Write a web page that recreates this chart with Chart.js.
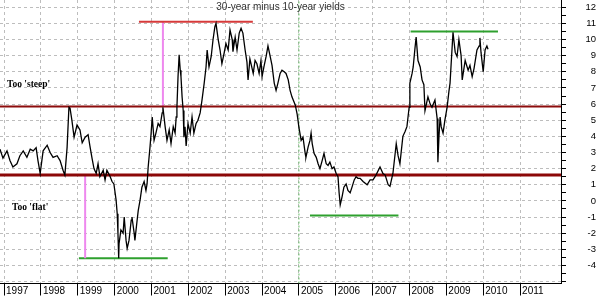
<!DOCTYPE html>
<html>
<head>
<meta charset="utf-8">
<script src="https://cdn.jsdelivr.net/npm/chart.js@4.4.0/dist/chart.umd.min.js"></script>
<style>
  html, body { margin: 0; padding: 0; background: #fff; }
</style>
</head>
<body>
<canvas id="chart" width="600" height="296"></canvas>
<script>
// 30-year minus 10-year yield spread (decimal years / values)
const years = [
  1996.89, 1996.97, 1997.08, 1997.16, 1997.24, 1997.35, 1997.43, 1997.52, 1997.62, 1997.71,
  1997.79, 1997.87, 1997.92, 1997.98, 1998.06, 1998.17, 1998.25, 1998.33, 1998.44, 1998.52,
  1998.60, 1998.65, 1998.71, 1998.76, 1998.79, 1998.84, 1998.90, 1998.98, 1999.06, 1999.12,
  1999.20, 1999.28, 1999.33, 1999.39, 1999.44, 1999.50, 1999.55, 1999.60, 1999.69, 1999.74,
  1999.79, 1999.88, 1999.93, 1999.98, 2000.01, 2000.04, 2000.07, 2000.09, 2000.11, 2000.12,
  2000.17, 2000.23, 2000.26, 2000.31, 2000.34, 2000.39, 2000.45, 2000.47, 2000.53, 2000.55,
  2000.61, 2000.64, 2000.69, 2000.74, 2000.80, 2000.85, 2000.88, 2000.91, 2000.96, 2000.99,
  2001.02, 2001.07, 2001.12, 2001.18, 2001.23, 2001.29, 2001.31, 2001.37, 2001.42, 2001.48,
  2001.53, 2001.59, 2001.64, 2001.67, 2001.69, 2001.72, 2001.75, 2001.78, 2001.80, 2001.83,
  2001.86, 2001.88, 2001.91, 2001.94, 2001.99, 2002.05, 2002.10, 2002.15, 2002.21, 2002.26,
  2002.32, 2002.37, 2002.43, 2002.48, 2002.51, 2002.56, 2002.62, 2002.67, 2002.72, 2002.75,
  2002.81, 2002.86, 2002.91, 2002.97, 2003.02, 2003.08, 2003.13, 2003.19, 2003.21, 2003.27,
  2003.32, 2003.38, 2003.43, 2003.48, 2003.54, 2003.59, 2003.62, 2003.67, 2003.76, 2003.81,
  2003.86, 2003.92, 2003.97, 2004.00, 2004.05, 2004.11, 2004.16, 2004.22, 2004.27, 2004.33,
  2004.38, 2004.43, 2004.49, 2004.54, 2004.60, 2004.65, 2004.71, 2004.76, 2004.81, 2004.90,
  2004.95, 2005.00, 2005.06, 2005.11, 2005.17, 2005.19, 2005.25, 2005.30, 2005.33, 2005.36,
  2005.41, 2005.47, 2005.52, 2005.57, 2005.63, 2005.68, 2005.74, 2005.79, 2005.84, 2005.90,
  2005.95, 2006.01, 2006.06, 2006.09, 2006.12, 2006.17, 2006.22, 2006.28, 2006.33, 2006.39,
  2006.44, 2006.50, 2006.55, 2006.60, 2006.66, 2006.74, 2006.85, 2006.93, 2007.01, 2007.09,
  2007.20, 2007.28, 2007.34, 2007.42, 2007.47, 2007.55, 2007.64, 2007.69, 2007.74, 2007.82,
  2007.88, 2007.93, 2007.99, 2008.01, 2008.07, 2008.10, 2008.15, 2008.18, 2008.23, 2008.29,
  2008.34, 2008.39, 2008.42, 2008.50, 2008.56, 2008.61, 2008.69, 2008.75, 2008.77, 2008.80,
  2008.83, 2008.86, 2008.91, 2008.96, 2009.02, 2009.07, 2009.10, 2009.13, 2009.18, 2009.24,
  2009.29, 2009.34, 2009.40, 2009.43, 2009.51, 2009.59, 2009.64, 2009.70, 2009.75, 2009.83,
  2009.89, 2009.91, 2009.94, 2010.00, 2010.05, 2010.10, 2010.13
];
const spread = [
  3.2, 2.65, 3.1, 2.5, 2.1, 2.3, 2.8, 3.1, 2.7, 3.2,
  3.1, 3.3, 2.5, 1.7, 3.1, 3.45, 3.0, 2.7, 2.8, 2.5,
  1.9, 1.6, 3.3, 5.8, 5.75, 5.0, 3.95, 4.7, 4.4, 3.6,
  3.95, 4.1, 3.4, 2.6, 2.0, 1.7, 2.3, 1.5, 1.9, 1.3,
  1.9, 1.5, 1.2, 1.05, 0.55, 0.05, -0.8, -2.0, -3.55, -2.65,
  -1.8, -2.0, -1.0, -2.45, -2.95, -2.45, -1.2, -1.0, -2.0, -2.45,
  -1.2, -0.6, 0.05, 0.85, 1.2, 0.65, 1.05, 2.1, 3.35, 4.2,
  5.2, 3.75, 4.2, 4.8, 4.6, 5.45, 5.8, 4.6, 3.75, 4.4,
  3.55, 4.6, 4.2, 5.2, 5.8, 7.7, 9.05, 8.1, 7.7, 6.45,
  5.6, 3.95, 4.6, 3.4, 4.8, 4.2, 5.2, 4.2, 4.8, 5.0,
  5.45, 6.25, 7.3, 8.3, 9.35, 8.3, 8.95, 10.0, 10.8, 11.0,
  10.0, 9.35, 8.5, 9.15, 9.75, 9.35, 10.6, 10.0, 9.25, 10.15,
  9.35, 10.4, 10.7, 10.4, 9.35, 8.6, 7.5, 8.8, 7.9, 8.7,
  8.5, 7.9, 8.7, 7.7, 8.3, 8.95, 9.6, 8.95, 8.4, 7.3,
  6.85, 7.3, 7.9, 8.1, 8.0, 7.9, 7.5, 6.85, 6.45, 5.95,
  5.4, 4.55, 3.75, 3.95, 2.95, 2.7, 3.35, 3.75, 4.2, 3.55,
  2.95, 2.7, 2.3, 2.0, 2.5, 2.95, 2.3, 2.2, 2.4, 2.0,
  2.1, 1.7, 1.5, 0.5, -0.25, 0.25, 0.85, 1.05, 0.65, 0.5,
  0.85, 1.3, 1.5, 1.4, 1.4, 1.2, 1.0, 1.3, 1.3, 1.6,
  2.1, 1.7, 1.6, 1.0, 0.9, 1.7, 3.55, 2.8, 2.3, 4.0,
  4.3, 4.6, 5.8, 7.3, 7.9, 8.3, 9.5, 10.15, 8.7, 8.3,
  7.5, 7.2, 5.6, 6.45, 6.0, 5.8, 6.25, 5.1, 2.4, 4.0,
  5.2, 4.6, 4.2, 5.0, 5.8, 6.8, 7.3, 8.5, 10.45, 9.2,
  8.95, 10.0, 9.0, 7.5, 8.7, 8.1, 8.4, 7.7, 8.2, 9.35,
  9.6, 10.1, 9.2, 8.0, 9.35, 9.6, 9.4
];

// axes
const xMin = 1996.89, xMax = 2012.11;
const yMin = -5.12, yMax = 12.45;
const tickYears = [1997, 1998, 1999, 2000, 2001, 2002, 2003, 2004, 2005, 2006, 2007, 2008, 2009, 2010, 2011];
const yTicks = [-5, -4.5, -4, -3.5, -3, -2.5, -2, -1.5, -1, -0.5, 0, 0.5, 1, 1.5, 2, 2.5, 3, 3.5, 4,
  4.5, 5, 5.5, 6, 6.5, 7, 7.5, 8, 8.5, 9, 9.5, 10, 10.5, 11, 11.5, 12];
const yLabelMin = -4;

// annotation levels and spans
const steepLevel = 5.85;
const flatLevel = 1.6;
const peakSpan = [2000.66, 2003.75];
const peakLevel = 11.1;
const lowSpan = [1999.03, 2001.44];
const lowLevel = -3.56;
const midLowSpan = [2005.3, 2007.7];
const midLowLevel = -0.9;
const highSpan = [2008.03, 2010.4];
const highLevel = 10.5;
const riseAt = 2001.31;      // magenta: 2001 rise
const fallAt = 1999.2;       // magenta: 1999 fall
const markerYear = 2005.0;   // green dotted vertical

const FONT = '"Liberation Sans", Arial, sans-serif';

function hLine(xs, y) { return xs.map(x => ({ x: x, y: y })); }
function vLine(x, ys) { return ys.map(y => ({ x: x, y: y })); }
function seg(data, color, width, dash) {
  return { data: data, borderColor: color, borderWidth: width, borderDash: dash || [],
    pointRadius: 0, fill: false, tension: 0 };
}

// title + side notes
const notesPlugin = {
  id: 'notes',
  afterDatasetsDraw(chart) {
    const { ctx, chartArea, scales } = chart;
    ctx.save();
    ctx.textBaseline = 'middle';
    ctx.fillStyle = '#333';
    ctx.font = '10px ' + FONT;
    ctx.textAlign = 'center';
    ctx.fillText('30-year minus 10-year yields', (chartArea.left + chartArea.right) / 2, chartArea.top + 7);
    ctx.fillStyle = '#000';
    ctx.font = 'bold 9.5px "Liberation Serif", "Times New Roman", serif';
    ctx.textAlign = 'left';
    ctx.fillText("Too 'steep'", chartArea.left + 7, scales.y.getPixelForValue(7.2));
    ctx.fillText("Too 'flat'", chartArea.left + 12, scales.y.getPixelForValue(-0.4));
    ctx.restore();
  }
};

new Chart(document.getElementById('chart'), {
  type: 'line',
  data: {
    datasets: [
      { data: years.map((x, i) => ({ x: x, y: spread[i] })), borderColor: '#000', borderWidth: 1.3,
        pointRadius: 0, fill: false, tension: 0 },
      seg(hLine([xMin, xMax], steepLevel), '#8c0c0c', 2),
      seg(hLine([xMin, xMax], flatLevel), '#8c0808', 3),
      seg(hLine(peakSpan, peakLevel), '#d63a3a', 2),
      seg(vLine(riseAt, [steepLevel, peakLevel]), '#ee88ee', 2),
      seg(vLine(fallAt, [flatLevel, lowLevel]), '#ee88ee', 2),
      seg(hLine(lowSpan, lowLevel), '#2ea02e', 2),
      seg(hLine(midLowSpan, midLowLevel), '#2ea02e', 2),
      seg(hLine(highSpan, highLevel), '#2ea02e', 2),
      seg(vLine(markerYear, [yMin, yMax]), '#66bb66', 1, [2, 2])
    ]
  },
  options: {
    responsive: false,
    animation: false,
    layout: { padding: { left: 0, top: 0, right: 4, bottom: 0 } },
    plugins: { legend: { display: false }, tooltip: { enabled: false } },
    scales: {
      x: {
        type: 'linear',
        min: xMin,
        max: xMax,
        afterBuildTicks: s => { s.ticks = tickYears.map(v => ({ value: v })); },
        afterFit: s => { s.height = 12.5; s.paddingLeft = 0; s.paddingRight = 0; },
        grid: { color: '#bdbdbd', lineWidth: 1, tickLength: 12, tickColor: '#000', tickWidth: 1 },
        border: { display: true, color: '#000', width: 1, dash: [3, 3] },
        ticks: {
          align: 'start', labelOffset: 2, padding: -10, maxRotation: 0, autoSkip: false,
          color: '#000', font: { family: FONT, size: 10 },
          callback: v => String(v)
        }
      },
      y: {
        type: 'linear',
        position: 'right',
        min: yMin,
        max: yMax,
        afterBuildTicks: s => { s.ticks = yTicks.map(v => ({ value: v })); },
        afterFit: s => { s.width = 35; s.paddingTop = 0; s.paddingBottom = 0; },
        grid: {
          color: c => (c.tick && Number.isInteger(c.tick.value)) ? '#bdbdbd' : 'rgba(0,0,0,0)',
          lineWidth: 1, tickLength: 5, tickColor: '#000', tickWidth: 1
        },
        border: { display: true, color: '#000', width: 1, dash: [3, 3] },
        ticks: {
          crossAlign: 'far', padding: 3, autoSkip: false, color: '#000',
          font: { family: FONT, size: 9.5 },
          callback: v => (Number.isInteger(v) && v >= yLabelMin) ? String(v) : ''
        }
      }
    }
  },
  plugins: [notesPlugin]
});
</script>
</body>
</html>
